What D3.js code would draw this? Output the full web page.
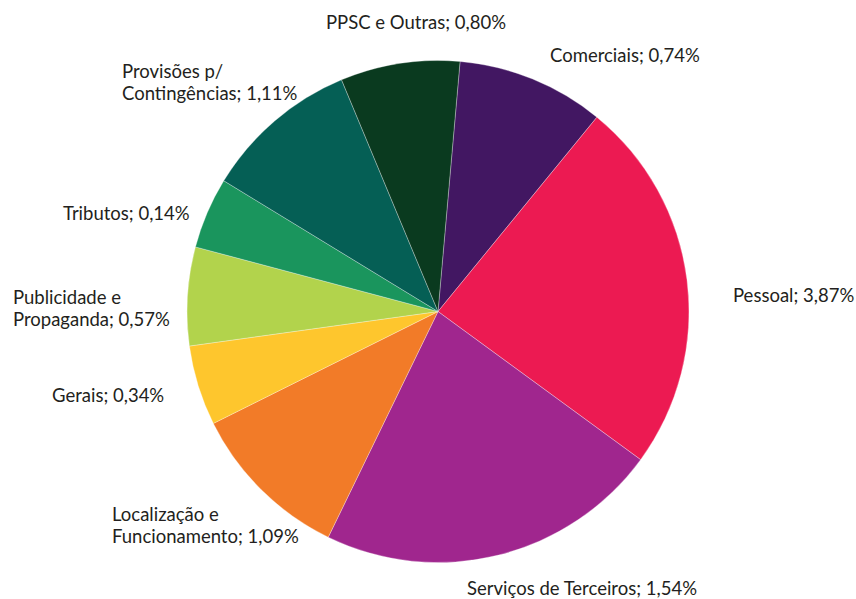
<!DOCTYPE html>
<html>
<head>
<meta charset="utf-8">
<script src="https://cdn.jsdelivr.net/npm/d3@7"></script>
<style>
  html, body { margin: 0; padding: 0; background: #ffffff; }
  svg { display: block; }
</style>
</head>
<body>
<div id="chart"></div>
<script>
// ---- Data ----
const categories = [
  "Comerciais", "Pessoal", "Serviços de Terceiros", "Localização e Funcionamento",
  "Gerais", "Publicidade e Propaganda", "Tributos", "Provisões p/ Contingências", "PPSC e Outras"
];
// label lines as printed on the chart
const labelLines = [
  ["Comerciais; 0,74%"],
  ["Pessoal; 3,87%"],
  ["Serviços de Terceiros; 1,54%"],
  ["Localização e", "Funcionamento; 1,09%"],
  ["Gerais; 0,34%"],
  ["Publicidade e", "Propaganda; 0,57%"],
  ["Tributos; 0,14%"],
  ["Provisões p/", "Contingências; 1,11%"],
  ["PPSC e Outras; 0,80%"]
];
const labelValues = [0.74, 3.87, 1.54, 1.09, 0.34, 0.57, 0.14, 1.11, 0.80];
// slice shares as drawn (% of the circle)
const sliceShares = [9.51, 24.14, 22.16, 10.44, 5.16, 6.34, 4.58, 10.00, 7.68];
const colors = ["#421762", "#EC1A52", "#A0268E", "#F27B28", "#FEC62D", "#B2D34C", "#1A955D", "#055F55", "#0A3A1F"];

// ---- Layout ----
const W = 856, H = 599;
const cx = 438, cy = 311.5, R = 251;
const startDeg = 5.04;
// label block placement: [left x, vertical centre of block]
const labelLayout = [
  [550, 55], [733, 295], [467, 588], [112, 524.5], [52, 395],
  [13, 308], [63, 213], [122, 81.5], [326, 22]
];
const fontSize = 18.5, lineH = 22;

const svg = d3.select("#chart").append("svg").attr("width", W).attr("height", H);

const pie = d3.pie().sort(null).value(d => d)
  .startAngle(startDeg * Math.PI / 180)
  .endAngle(startDeg * Math.PI / 180 + 2 * Math.PI);
const arc = d3.arc().innerRadius(0).outerRadius(R);

const g = svg.append("g").attr("transform", `translate(${cx},${cy})`);
g.selectAll("path").data(pie(sliceShares)).join("path")
  .attr("d", arc)
  .attr("fill", (d, i) => colors[i])
  .attr("stroke", "#ffffff").attr("stroke-width", 0.5).attr("stroke-opacity", 0.6);

const labels = svg.append("g")
  .attr("font-family", "Lato, 'Open Sans', sans-serif")
  .attr("font-size", fontSize)
  .attr("fill", "#231F20");

labelLines.forEach((lines, i) => {
  const [lx, ly] = labelLayout[i];
  const top = ly - (lines.length - 1) * lineH / 2;
  const t = labels.append("text").attr("x", lx).attr("y", top).attr("dominant-baseline", "central");
  lines.forEach((ln, j) => {
    t.append("tspan").attr("x", lx).attr("y", top + j * lineH).text(ln);
  });
});
</script>
</body>
</html>
